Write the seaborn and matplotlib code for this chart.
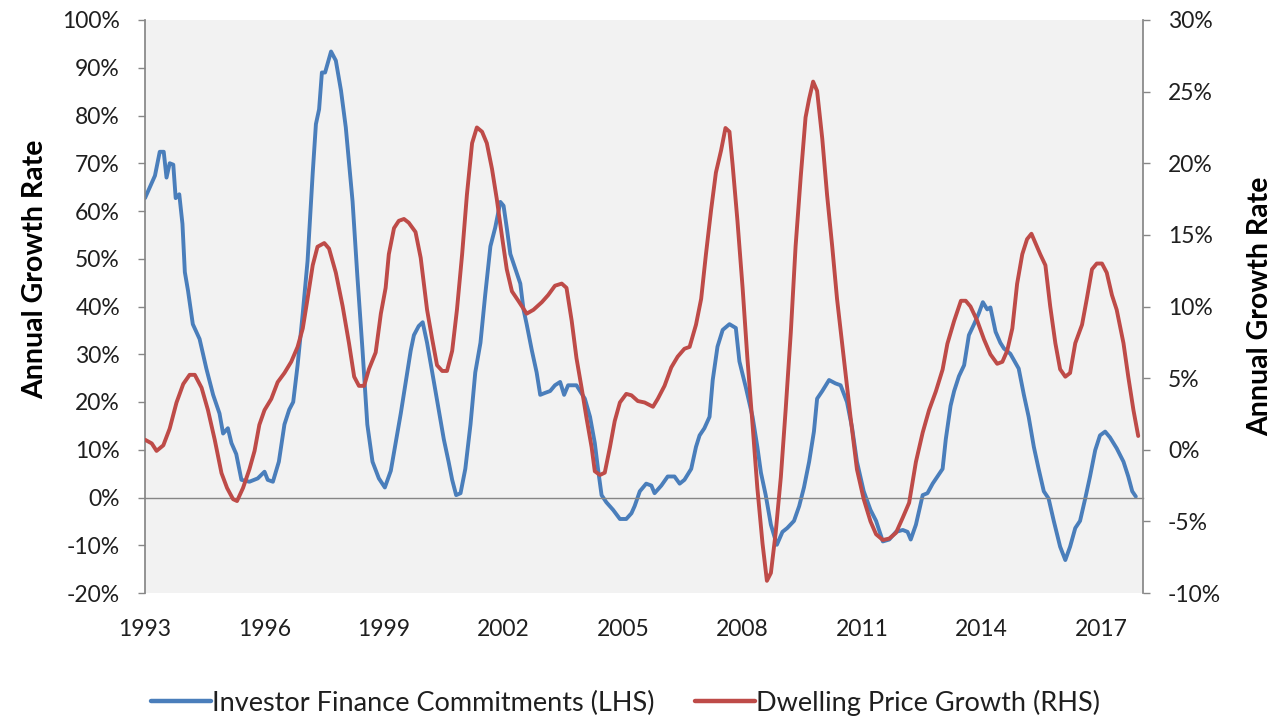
import matplotlib
matplotlib.use("Agg")
import matplotlib.pyplot as plt
import matplotlib.ticker as mticker
from matplotlib.lines import Line2D
import numpy as np
import pandas as pd
import seaborn as sns

# Investor finance commitments, annual growth (%), left axis
inv_year = [
    1993.00, 1993.25, 1993.37, 1993.47, 1993.54, 1993.62, 1993.71, 1993.77, 1993.86, 1993.94,
    1994.00, 1994.08, 1994.20, 1994.37, 1994.54, 1994.71, 1994.87, 1994.96, 1995.08, 1995.17,
    1995.29, 1995.42, 1995.62, 1995.83, 1996.00, 1996.08, 1996.21, 1996.36, 1996.50, 1996.62,
    1996.72, 1996.83, 1996.96, 1997.08, 1997.21, 1997.29, 1997.37, 1997.44, 1997.52, 1997.67,
    1997.79, 1997.92, 1998.04, 1998.21, 1998.33, 1998.46, 1998.58, 1998.71, 1998.87, 1999.02,
    1999.17, 1999.29, 1999.42, 1999.54, 1999.67, 1999.75, 1999.87, 1999.97, 2000.08, 2000.21,
    2000.37, 2000.50, 2000.62, 2000.71, 2000.81, 2000.92, 2001.04, 2001.17, 2001.29, 2001.42,
    2001.54, 2001.67, 2001.79, 2001.92, 2002.00, 2002.08, 2002.17, 2002.29, 2002.42, 2002.50,
    2002.58, 2002.71, 2002.83, 2002.92, 2003.04, 2003.17, 2003.29, 2003.42, 2003.52, 2003.62,
    2003.83, 2004.04, 2004.17, 2004.29, 2004.37, 2004.46, 2004.58, 2004.75, 2004.92, 2005.08,
    2005.21, 2005.29, 2005.42, 2005.58, 2005.71, 2005.79, 2005.96, 2006.12, 2006.29, 2006.42,
    2006.54, 2006.71, 2006.83, 2006.92, 2007.04, 2007.17, 2007.25, 2007.37, 2007.50, 2007.67,
    2007.83, 2007.92, 2008.08, 2008.25, 2008.37, 2008.46, 2008.58, 2008.71, 2008.86, 2009.00,
    2009.12, 2009.29, 2009.42, 2009.54, 2009.67, 2009.79, 2009.87, 2010.00, 2010.17, 2010.33,
    2010.46, 2010.62, 2010.75, 2010.87, 2011.04, 2011.21, 2011.35, 2011.52, 2011.68, 2011.85,
    2012.02, 2012.14, 2012.22, 2012.35, 2012.52, 2012.64, 2012.77, 2012.89, 2013.02, 2013.10,
    2013.22, 2013.31, 2013.43, 2013.56, 2013.68, 2013.81, 2013.93, 2014.03, 2014.14, 2014.22,
    2014.35, 2014.47, 2014.56, 2014.72, 2014.93, 2015.06, 2015.18, 2015.31, 2015.43, 2015.56,
    2015.68, 2015.81, 2015.97, 2016.10, 2016.22, 2016.35, 2016.47, 2016.60, 2016.72, 2016.85,
    2016.97, 2017.10, 2017.22, 2017.39, 2017.56, 2017.68, 2017.78, 2017.87,
]
inv_growth = [
    62.7, 67.4, 72.4, 72.4, 67.0, 70.0, 69.7, 62.7, 63.5, 57.3,
    47.2, 43.3, 36.3, 33.2, 27.0, 21.5, 17.6, 13.4, 14.5, 11.4,
    9.1, 3.7, 3.3, 4.0, 5.4, 3.7, 3.3, 7.5, 15.3, 18.4,
    20.0, 27.7, 38.6, 49.5, 68.0, 78.2, 81.3, 89.0, 89.0, 93.4,
    91.5, 85.2, 77.5, 62.0, 46.4, 30.8, 15.3, 7.5, 4.0, 2.1,
    5.6, 11.4, 17.6, 23.9, 30.8, 34.0, 35.9, 36.7, 32.4, 26.2,
    18.4, 12.2, 7.5, 3.7, 0.5, 0.9, 6.0, 15.3, 26.2, 32.4,
    42.5, 52.6, 56.5, 61.9, 61.1, 56.5, 51.0, 48.0, 44.8, 39.4,
    36.3, 30.8, 26.2, 21.5, 21.9, 22.3, 23.5, 24.2, 21.5, 23.5,
    23.5, 20.7, 16.9, 11.4, 6.0, 0.5, -1.0, -2.6, -4.5, -4.5,
    -3.3, -1.8, 1.3, 2.9, 2.5, 0.9, 2.5, 4.4, 4.4, 2.9,
    3.7, 6.0, 10.6, 13.0, 14.5, 16.9, 24.6, 31.6, 35.1, 36.3,
    35.5, 28.5, 23.1, 16.9, 10.6, 5.2, 0.5, -5.7, -9.9, -7.2,
    -6.4, -4.9, -1.8, 2.1, 7.5, 13.8, 20.7, 22.3, 24.6, 23.9,
    23.5, 20.0, 14.5, 7.5, 1.3, -2.6, -4.9, -9.2, -8.8, -7.2,
    -6.8, -7.2, -8.8, -5.7, 0.5, 0.9, 2.9, 4.4, 6.0, 12.2,
    19.2, 22.3, 25.4, 27.7, 34.0, 36.3, 38.6, 40.9, 39.4, 39.8,
    34.7, 32.4, 31.2, 30.1, 27.0, 21.5, 16.9, 10.6, 6.0, 1.3,
    -0.2, -4.9, -10.3, -13.1, -10.3, -6.4, -4.9, -0.2, 4.4, 9.9,
    13.0, 13.8, 12.6, 10.3, 7.5, 4.4, 1.3, 0.2,
]

# Dwelling price growth, annual (%), right axis
price_year = [
    1993.00, 1993.17, 1993.29, 1993.46, 1993.62, 1993.79, 1993.96, 1994.12, 1994.25, 1994.42,
    1994.58, 1994.75, 1994.92, 1995.06, 1995.21, 1995.31, 1995.46, 1995.62, 1995.75, 1995.87,
    1996.00, 1996.17, 1996.33, 1996.50, 1996.67, 1996.83, 1996.96, 1997.08, 1997.21, 1997.33,
    1997.50, 1997.62, 1997.79, 1997.96, 1998.12, 1998.25, 1998.37, 1998.50, 1998.62, 1998.79,
    1998.92, 1999.04, 1999.12, 1999.25, 1999.37, 1999.50, 1999.62, 1999.79, 1999.92, 2000.00,
    2000.08, 2000.21, 2000.33, 2000.46, 2000.58, 2000.71, 2000.83, 2000.96, 2001.08, 2001.21,
    2001.33, 2001.46, 2001.58, 2001.71, 2001.83, 2001.96, 2002.08, 2002.21, 2002.37, 2002.58,
    2002.75, 2002.96, 2003.12, 2003.29, 2003.46, 2003.58, 2003.71, 2003.83, 2003.96, 2004.08,
    2004.21, 2004.29, 2004.42, 2004.54, 2004.67, 2004.79, 2004.92, 2005.08, 2005.21, 2005.37,
    2005.54, 2005.75, 2005.87, 2006.04, 2006.21, 2006.37, 2006.54, 2006.67, 2006.75, 2006.83,
    2006.96, 2007.08, 2007.21, 2007.33, 2007.46, 2007.57, 2007.67, 2007.75, 2007.87, 2008.00,
    2008.12, 2008.25, 2008.37, 2008.50, 2008.61, 2008.71, 2008.83, 2008.96, 2009.08, 2009.21,
    2009.33, 2009.46, 2009.58, 2009.67, 2009.77, 2009.87, 2010.00, 2010.12, 2010.25, 2010.37,
    2010.54, 2010.71, 2010.87, 2011.04, 2011.21, 2011.35, 2011.52, 2011.68, 2011.85, 2012.02,
    2012.18, 2012.35, 2012.52, 2012.68, 2012.85, 2013.02, 2013.14, 2013.31, 2013.48, 2013.60,
    2013.72, 2013.89, 2014.06, 2014.22, 2014.39, 2014.52, 2014.64, 2014.77, 2014.89, 2015.02,
    2015.14, 2015.25, 2015.35, 2015.47, 2015.60, 2015.72, 2015.85, 2015.97, 2016.10, 2016.22,
    2016.35, 2016.52, 2016.64, 2016.77, 2016.89, 2017.02, 2017.14, 2017.27, 2017.39, 2017.56,
    2017.68, 2017.81, 2017.93,
]
price_growth = [
    0.70, 0.44, -0.08, 0.31, 1.48, 3.29, 4.59, 5.23, 5.23, 4.33,
    2.77, 0.70, -1.63, -2.67, -3.45, -3.58, -2.67, -1.37, -0.08, 1.74,
    2.77, 3.55, 4.72, 5.36, 6.14, 7.18, 8.47, 10.54, 12.88, 14.17,
    14.43, 14.04, 12.36, 10.03, 7.44, 5.10, 4.46, 4.46, 5.62, 6.79,
    9.50, 11.30, 13.65, 15.47, 15.98, 16.11, 15.85, 15.20, 13.40, 11.60,
    9.77, 7.70, 5.90, 5.50, 5.50, 6.90, 9.77, 13.65, 17.80, 21.40,
    22.50, 22.20, 21.40, 19.60, 17.50, 14.90, 12.60, 11.06, 10.40, 9.50,
    9.77, 10.30, 10.80, 11.45, 11.60, 11.30, 9.00, 6.40, 4.30, 2.25,
    0.18, -1.50, -1.76, -1.60, 0.18, 2.00, 3.30, 3.90, 3.80, 3.40,
    3.30, 3.00, 3.55, 4.46, 5.75, 6.50, 7.05, 7.18, 7.95, 8.73,
    10.54, 13.65, 16.76, 19.35, 20.90, 22.46, 22.20, 19.87, 16.00, 11.30,
    6.40, 1.74, -2.67, -6.55, -9.15, -8.60, -5.80, -1.90, 2.77, 8.20,
    14.20, 19.10, 23.20, 24.50, 25.70, 25.05, 21.70, 17.80, 14.17, 10.54,
    6.40, 2.25, -1.37, -3.45, -5.00, -5.90, -6.30, -6.20, -5.80, -4.74,
    -3.70, -0.85, 1.20, 2.77, 4.07, 5.60, 7.40, 9.00, 10.40, 10.40,
    10.00, 9.00, 7.70, 6.66, 6.00, 6.14, 6.90, 8.47, 11.58, 13.65,
    14.70, 15.08, 14.43, 13.65, 12.88, 10.03, 7.44, 5.62, 5.10, 5.36,
    7.44, 8.73, 10.54, 12.60, 13.00, 13.00, 12.36, 10.80, 9.77, 7.44,
    5.10, 2.77, 0.96,
]

year_ticks = [1993, 1996, 1999, 2002, 2005, 2008, 2011, 2014, 2017]
left_ticks = list(range(-20, 101, 10))
right_ticks = list(range(-10, 31, 5))

inv_label = "Investor Finance Commitments (LHS)"
price_label = "Dwelling Price Growth (RHS)"
axis_title = "Annual Growth Rate"

BLUE = "#4A7EBB"
RED = "#BE4B48"
AXIS_GREY = "#868686"
TEXT = "#1F1F1F"
TICK_SIZE = 16.5
TITLE_SIZE = 20.5

sns.set_theme(style="white")
plt.rcParams["font.family"] = ["Lato", "DejaVu Sans"]

inv_df = pd.DataFrame({"year": inv_year, "growth": inv_growth})
price_df = pd.DataFrame({"year": price_year, "growth": price_growth})

fig = plt.figure(figsize=(12.85, 7.17), dpi=100)
ax = fig.add_axes([145 / 1285, 1 - 593 / 717, (1143 - 145) / 1285, (593 - 20) / 717])
ax.set_facecolor("#F2F2F2")

sns.lineplot(data=inv_df, x="year", y="growth", ax=ax, color=BLUE,
             linewidth=2.8, legend=False, sort=False)
ax.set_xlim(1993.0, 2018.05)
ax.set_ylim(-20, 100)

ax2 = ax.twinx()
sns.lineplot(data=price_df, x="year", y="growth", ax=ax2, color=RED,
             linewidth=2.8, legend=False, sort=False)
ax2.set_ylim(-10, 30)
ax2.set_xlim(1993.0, 2018.05)

pct = mticker.FuncFormatter(lambda v, _: f"{v:.0f}%")

# left axis
ax.set_yticks(left_ticks)
ax.yaxis.set_major_formatter(pct)
ax.tick_params(axis="y", direction="out", length=5, width=1, color=AXIS_GREY,
               labelsize=TICK_SIZE, labelcolor=TEXT, pad=13)
ax.set_ylabel(axis_title, fontsize=TITLE_SIZE, fontweight="bold", color="black")
ax.yaxis.set_label_coords(-0.097, 0.565)

# right axis
ax2.set_yticks(right_ticks)
ax2.yaxis.set_major_formatter(pct)
ax2.tick_params(axis="y", direction="out", length=5, width=1, color=AXIS_GREY,
                labelsize=TICK_SIZE, labelcolor=TEXT, pad=13)
ax2.set_ylabel(axis_title, fontsize=TITLE_SIZE, fontweight="bold", color="black",
               rotation=90)
ax2.yaxis.set_label_coords(1.104, 0.50)

# spines: vertical axes grey, horizontal axis sits on the zero line
for a in (ax, ax2):
    a.spines["top"].set_visible(False)
    a.set_xlabel("")
ax.spines["right"].set_visible(False)
ax2.spines["left"].set_visible(False)
ax2.spines["bottom"].set_visible(False)
ax.spines["left"].set_color(AXIS_GREY)
ax2.spines["right"].set_color(AXIS_GREY)
ax.spines["bottom"].set_position(("data", 0))
ax.spines["bottom"].set_color(AXIS_GREY)
ax.spines["bottom"].set_linewidth(1.0)

ax.set_xticks(year_ticks)
ax.tick_params(axis="x", direction="out", length=4, width=1, color=AXIS_GREY,
               labelbottom=False)
ax2.tick_params(axis="x", length=0, labelbottom=False)

# year labels below the plot area
sec = ax.secondary_xaxis("bottom")
sec.set_xticks(year_ticks)
sec.set_xticklabels([str(y) for y in year_ticks])
sec.tick_params(length=0, pad=19, labelsize=TICK_SIZE, labelcolor=TEXT)
sec.spines["bottom"].set_visible(False)

handles = [Line2D([], [], color=BLUE, lw=3.2), Line2D([], [], color=RED, lw=3.2)]
fig.legend(handles, [inv_label, price_label], loc="center",
           bbox_to_anchor=(0.487, 0.02), ncol=2, frameon=False,
           fontsize=19.5, handlelength=2.2, handletextpad=0.05,
           columnspacing=1.5, labelcolor=TEXT)

fig.savefig("out.png", dpi=100)
